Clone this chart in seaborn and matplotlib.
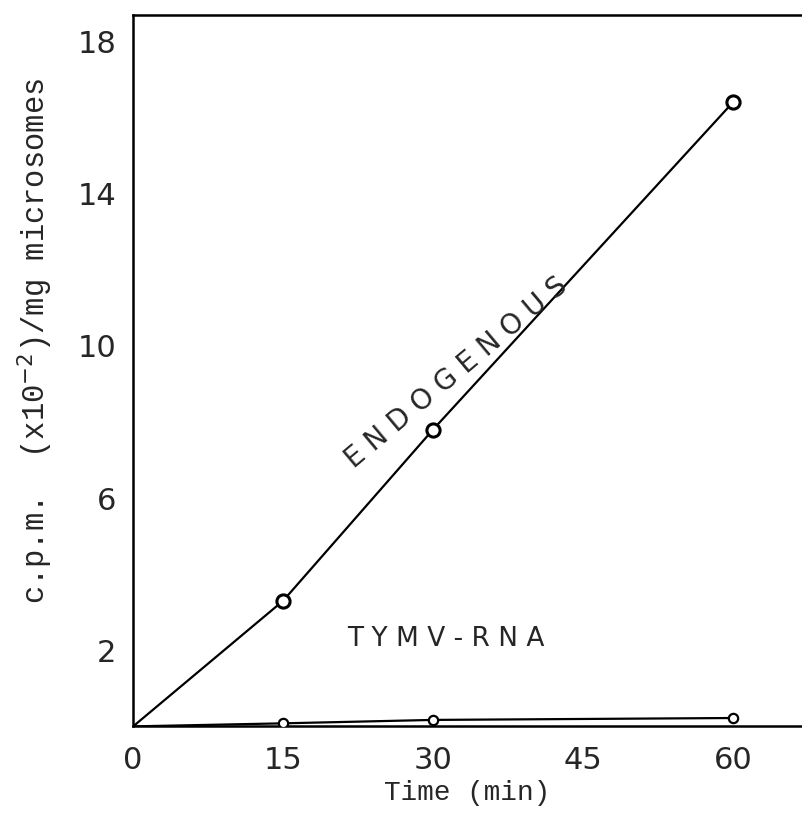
import pandas as pd
import matplotlib
matplotlib.use("Agg")
import matplotlib.pyplot as plt
import seaborn as sns

# values
time_min = [0, 15, 30, 60]
endogenous = [0, 3.3, 7.8, 16.4]
tymv_rna = [0, 0.08, 0.17, 0.22]

x_ticks = [0, 15, 30, 45, 60]
x_ticklabels = ["0", "15", "30", "45", "60"]
y_ticks = [2, 6, 10, 14, 18]
y_ticklabels = ["2", "6", "10", "14", "18"]

df = pd.DataFrame({
    "time": time_min * 2,
    "cpm": endogenous + tymv_rna,
    "series": ["ENDOGENOUS"] * 4 + ["TYMV-RNA"] * 4,
})

sns.set_style("white")
plt.rcParams["font.family"] = ["DejaVu Sans"]

fig = plt.figure(figsize=(8.02, 8.18), dpi=100)
ax = fig.add_axes([0.166, 0.112, 0.834, 0.87])

sns.lineplot(data=df, x="time", y="cpm", hue="series",
             palette={"ENDOGENOUS": "black", "TYMV-RNA": "black"},
             linewidth=1.6, legend=False, ax=ax)

# open circle markers, skipping the origin
pts = df[df["time"] > 0]
sns.scatterplot(data=pts[pts["series"] == "ENDOGENOUS"], x="time", y="cpm",
                s=90, facecolor="white", edgecolor="black", linewidth=2.2,
                zorder=3, legend=False, ax=ax)
sns.scatterplot(data=pts[pts["series"] == "TYMV-RNA"], x="time", y="cpm",
                s=45, facecolor="white", edgecolor="black", linewidth=1.6,
                zorder=3, legend=False, ax=ax)

ax.set_xlim(0, 66.9)
ax.set_ylim(0, 18.7)
ax.set_xticks(x_ticks)
ax.set_xticklabels(x_ticklabels, fontsize=22)
ax.set_yticks(y_ticks)
ax.set_yticklabels(y_ticklabels, fontsize=22)
ax.tick_params(axis="y", direction="in", length=6, width=1.5, pad=12)
ax.tick_params(axis="x", direction="out", length=6, width=1.2, pad=8)

for side in ["left", "bottom", "top"]:
    ax.spines[side].set_visible(True)
    ax.spines[side].set_color("black")
    ax.spines[side].set_linewidth(1.8)
ax.spines["right"].set_visible(False)

ax.set_xlabel("Time (min)", family="Liberation Mono", fontsize=20, labelpad=4)
ax.set_ylabel("c.p.m.  (x10$^{-2}$)/mg microsomes", family="Liberation Mono",
              fontsize=22)
ax.yaxis.set_label_coords(-0.117, 0.541)

ax.text(32.3, 9.3, "E N D O G E N O U S", rotation=40, fontsize=20,
        ha="center", va="center")
ax.text(31.3, 2.3, "T Y M V - R N A", fontsize=19, ha="center", va="center")

fig.savefig("out.png", dpi=100)
